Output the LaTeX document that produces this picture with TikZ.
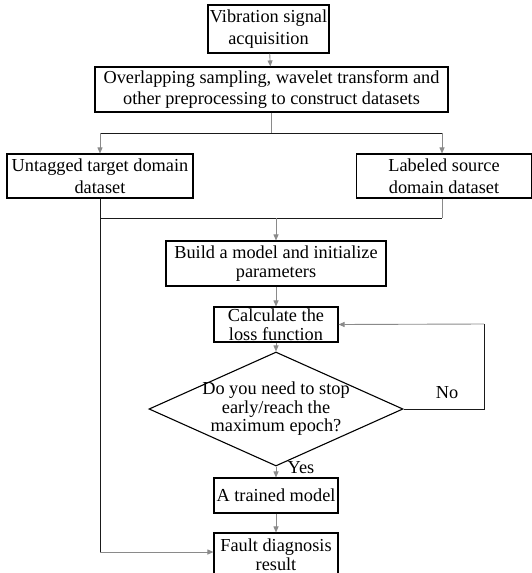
\documentclass[tikz,border=0pt]{standalone}
\usepackage{fontspec}
\setmainfont{Liberation Serif}
\usetikzlibrary{arrows.meta,positioning,shapes.geometric}
\definecolor{flowgray}{HTML}{8A8A8A}
\definecolor{joindark}{HTML}{1A1A1A}

\begin{document}
\begin{tikzpicture}[x=1pt,y=-1pt,
  box/.style={draw,line width=1.1pt,align=center,inner sep=0pt,font=\fontsize{18.3}{21.5}\selectfont},
  tightbox/.style={box,font=\fontsize{18.3}{19}\selectfont},
  decision/.style={draw,diamond,line width=1.1pt,inner sep=0pt,minimum width=254pt,minimum height=114pt},
  flow/.style={flowgray,line width=0.9pt,-{Triangle[length=6pt,width=5pt]}},
  gline/.style={flowgray,line width=0.9pt},
  bline/.style={joindark,line width=0.9pt},
  tag/.style={font=\fontsize{18.3}{20}\selectfont,inner sep=0pt}]
  \clip (0,0) rectangle (532,573);
  \useasboundingbox (0,0) rectangle (532,573);

  % boxes
  \node[box,minimum width=121pt,minimum height=48pt] (acq) at (268.5,29) {Vibration signal\\acquisition};
  \node[box,minimum width=353pt,minimum height=45pt] (prep) at (271.5,89.5) {Overlapping sampling, wavelet transform and\\other preprocessing to construct datasets};
  \node[box,minimum width=186pt,minimum height=44pt] (target) at (100,176) {Untagged target domain\\dataset};
  \node[box,minimum width=175pt,minimum height=44pt] (source) at (444,176) {Labeled source\\domain dataset};
  \node[tightbox,minimum width=220pt,minimum height=45pt] (build) at (276,263.5) {Build a model and initialize\\parameters};
  \node[tightbox,minimum width=124pt,minimum height=35pt] (calc) at (276,324.5) {Calculate the\\loss function};
  \node[decision] (decide) at (276,409) {};
  \node[tag,align=center,font=\fontsize{18.3}{18.5}\selectfont] (decidetext) at (decide.center) {Do you need to stop\\early/reach the\\maximum epoch?};
  \node[tightbox,minimum width=124pt,minimum height=35pt] (trained) at (276,495.5) {A trained model};
  \node[tightbox,minimum width=124pt,minimum height=44pt] (result) at (276,555) {Fault diagnosis\\result};

  % joints
  \coordinate (splitL) at (100,133);
  \coordinate (splitR) at (442,133);
  \coordinate (mergeL) at (100,218);
  \coordinate (mergeR) at (442,218);
  \coordinate (bypass) at (100,552);
  \coordinate (loopcorner) at (484,324);

  \draw[flow] (acq) -- (prep);
  \draw[gline] (prep.south) -- (prep.south |- splitL);
  \draw[bline] (splitL) -- (splitR);
  \draw[flow] (splitL) -- (splitL |- target.north);
  \draw[flow] (splitR) -- (splitR |- source.north);
  \draw[bline] (target.south -| mergeL) -- (mergeL) -- (mergeR);
  \draw[gline] (source.south -| mergeR) -- (mergeR);
  \draw[flow] (build.north |- mergeL) -- (build.north);
  \draw[flow] (build) -- (calc);
  \draw[flow] (calc) -- (decide.north);
  \draw[flow] (decide.south) -- (trained);
  \draw[flow] (trained) -- (result);
  \draw[bline] (mergeL) -- (bypass);
  \draw[flow] (bypass) -- (result.west |- bypass);
  \draw[bline] (decide.east) -| (loopcorner);
  \draw[flow] (loopcorner) -- (calc.east);

  \node[tag] (no) at (447,393) {No};
  \node[tag] (yes) at (301,468) {Yes};
\end{tikzpicture}
\end{document}
